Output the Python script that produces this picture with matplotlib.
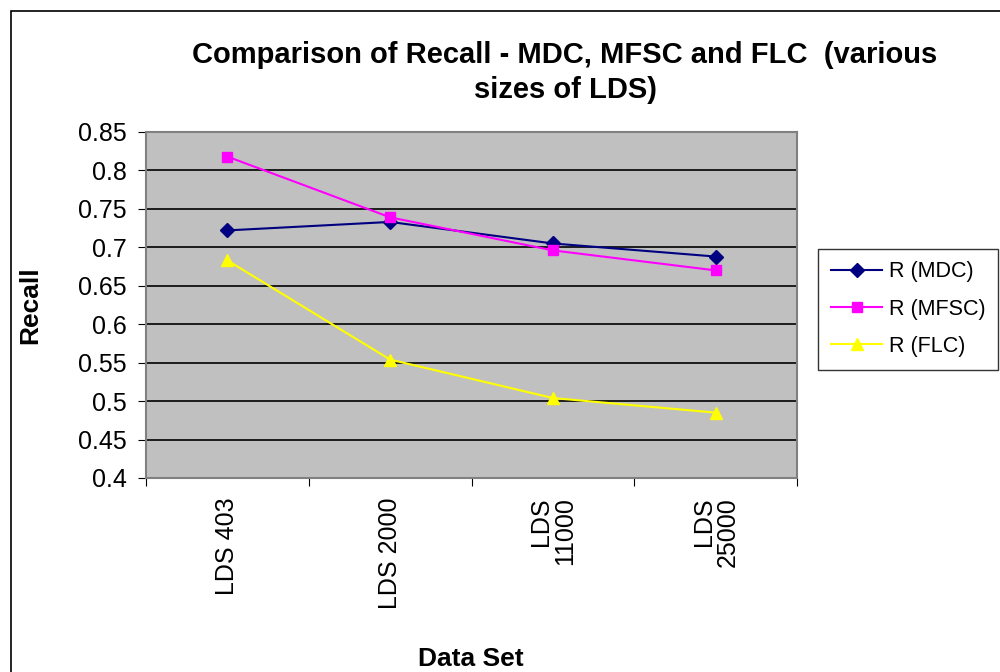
import matplotlib
matplotlib.use("Agg")
import matplotlib.pyplot as plt
from matplotlib.patches import Rectangle

plt.rcParams['font.family'] = ['Liberation Sans', 'DejaVu Sans']

categories = ["LDS 403", "LDS 2000", "LDS\n11000", "LDS\n25000"]
r_mdc = [0.722, 0.733, 0.705, 0.688]
r_mfsc = [0.818, 0.739, 0.696, 0.670]
r_flc = [0.683, 0.554, 0.504, 0.485]
yticks = [0.4, 0.45, 0.5, 0.55, 0.6, 0.65, 0.7, 0.75, 0.8, 0.85]
ytick_labels = ["0.4", "0.45", "0.5", "0.55", "0.6", "0.65", "0.7", "0.75", "0.8", "0.85"]

fig = plt.figure(figsize=(10, 6.72), dpi=100)
fig.patches.append(Rectangle((0.011, -0.1), 1.2, 1.084, transform=fig.transFigure,
                             fill=False, edgecolor='black', linewidth=1.2))

ax = fig.add_axes([0.146, 0.2887, 0.651, 0.5149])
ax.set_facecolor('#C0C0C0')
x = list(range(len(categories)))
ax.plot(x, r_mdc, color='#000080', marker='D', markersize=7, linewidth=1.5, label='R (MDC)')
ax.plot(x, r_mfsc, color='#FF00FF', marker='s', markersize=7, linewidth=1.5, label='R (MFSC)')
ax.plot(x, r_flc, color='#FFFF00', marker='^', markersize=9, linewidth=1.5, label='R (FLC)')

ax.set_xlim(-0.5, len(categories) - 0.5)
ax.set_ylim(0.4, 0.85)
ax.set_yticks(yticks)
ax.set_yticklabels(ytick_labels, fontsize=18)
ax.yaxis.grid(True, color='black', linewidth=1.2)
ax.set_axisbelow(True)

ax.set_xticks([i - 0.5 for i in range(len(categories) + 1)])
ax.set_xticklabels([])
ax.set_xticks(x, minor=True)
ax.set_xticklabels(categories, minor=True, rotation=90, fontsize=18,
                   ha='center', va='top', multialignment='right', linespacing=1.0)
ax.tick_params(axis='x', which='minor', length=0, pad=14)
ax.tick_params(axis='x', which='major', length=6, direction='out')
ax.tick_params(axis='y', length=6, direction='out', pad=8)

for s in ax.spines.values():
    s.set_color('#808080')
    s.set_linewidth(1.5)

fig.text(0.565, 0.892, "Comparison of Recall - MDC, MFSC and FLC  (various\nsizes of LDS)",
         ha='center', va='center', fontsize=21, fontweight='bold', linespacing=1.3)
fig.text(0.030, 0.546, "Recall", rotation=90, ha='center', va='center', fontsize=19, fontweight='bold')
fig.text(0.471, 0.020, "Data Set", ha='center', va='center', fontsize=19, fontweight='bold')

leg = ax.legend(loc='center left', bbox_to_anchor=(1.032, 0.488), bbox_transform=ax.transAxes,
                frameon=True, fancybox=False, fontsize=15.5, handlelength=2.4,
                borderpad=0.6, labelspacing=0.75, handletextpad=0.3, borderaxespad=0)
leg.get_frame().set_edgecolor('black')
leg.get_frame().set_linewidth(1.0)

fig.savefig('out.png', dpi=100)
